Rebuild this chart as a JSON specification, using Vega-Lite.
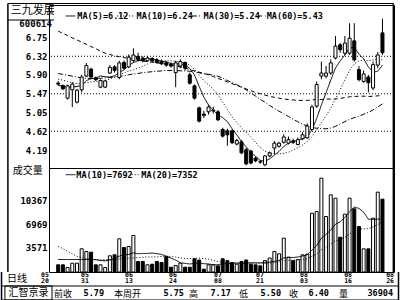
{
"$schema": "https://vega.github.io/schema/vega-lite/v6.json",
"background": "white",
"padding": {"left": 0, "top": 2, "right": 0, "bottom": 0},
"spacing": 0,
"bounds": "flush",
"config": {
  "view": {"stroke": "black", "strokeWidth": 1},
  "axis": {"labelFont": "DejaVu Sans Mono", "labelFontWeight": "bold", "labelColor": "black", "labelFontSize": 9, "ticks": false, "domain": false, "grid": false, "labelPadding": 2, "minExtent": 48, "maxExtent": 48, "labelOverlap": false},
  "text": {"font": "DejaVu Sans Mono", "fontWeight": "bold", "fontSize": 8.5, "color": "black"}
},
"datasets": {
  "k": [
{"i":0,"o":5.71,"h":5.76,"l":5.66,"c":5.69,"v":1050,"m5":5.66,"m10":5.80,"m30":5.93,"m60":6.89,"v10":1820,"v20":3720},
{"i":1,"o":5.66,"h":5.68,"l":5.56,"c":5.58,"v":1050,"m5":5.64,"m10":5.78,"m30":5.91,"m60":6.84,"v10":1820,"v20":3400},
{"i":2,"o":5.37,"h":5.68,"l":5.34,"c":5.65,"v":656,"m5":5.62,"m10":5.75,"m30":5.89,"m60":6.79,"v10":1820,"v20":3000},
{"i":3,"o":5.56,"h":5.73,"l":5.17,"c":5.69,"v":1283,"m5":5.63,"m10":5.72,"m30":5.87,"m60":6.74,"v10":1820,"v20":2650},
{"i":4,"o":5.28,"h":5.58,"l":5.25,"c":5.55,"v":1283,"m5":5.632,"m10":5.70,"m30":5.85,"m60":6.69,"v10":1820,"v20":2300},
{"i":5,"o":5.56,"h":5.90,"l":5.50,"c":5.85,"v":3383,"m5":5.664,"m10":5.70,"m30":5.83,"m60":6.64,"v10":1820,"v20":2100},
{"i":6,"o":5.87,"h":6.17,"l":5.85,"c":6.11,"v":2989,"m5":5.77,"m10":5.72,"m30":5.82,"m60":6.59,"v10":1820,"v20":1950},
{"i":7,"o":6.03,"h":6.06,"l":5.83,"c":5.85,"v":2887,"m5":5.81,"m10":5.74,"m30":5.82,"m60":6.54,"v10":1820,"v20":1850},
{"i":8,"o":5.83,"h":5.86,"l":5.76,"c":5.79,"v":1050,"m5":5.83,"m10":5.75,"m30":5.82,"m60":6.49,"v10":1800,"v20":1800},
{"i":9,"o":5.62,"h":5.80,"l":5.60,"c":5.77,"v":1050,"m5":5.874,"m10":5.753,"m30":5.82,"m60":6.44,"v10":1668,"v20":1800},
{"i":10,"o":5.62,"h":5.79,"l":5.60,"c":5.76,"v":656,"m5":5.856,"m10":5.76,"m30":5.83,"m60":6.39,"v10":1629,"v20":1800},
{"i":11,"o":5.94,"h":6.12,"l":5.92,"c":6.07,"v":2362,"m5":5.848,"m10":5.809,"m30":5.84,"m60":6.36,"v10":1760,"v20":1820},
{"i":12,"o":6.08,"h":6.12,"l":5.95,"c":6.00,"v":2508,"m5":5.878,"m10":5.844,"m30":5.85,"m60":6.33,"v10":1945,"v20":1850},
{"i":13,"o":5.84,"h":6.22,"l":5.80,"c":6.17,"v":4840,"m5":5.954,"m10":5.892,"m30":5.86,"m60":6.31,"v10":2301,"v20":1900},
{"i":14,"o":6.18,"h":6.22,"l":6.02,"c":6.05,"v":3572,"m5":6.01,"m10":5.942,"m30":5.88,"m60":6.29,"v10":2530,"v20":1950},
{"i":15,"o":6.08,"h":6.36,"l":6.05,"c":6.30,"v":3718,"m5":6.118,"m10":5.987,"m30":5.90,"m60":6.27,"v10":2563,"v20":2000},
{"i":16,"o":6.22,"h":6.50,"l":6.18,"c":6.35,"v":5322,"m5":6.174,"m10":6.011,"m30":5.92,"m60":6.25,"v10":2797,"v20":2050},
{"i":17,"o":6.32,"h":6.40,"l":6.20,"c":6.25,"v":1530,"m5":6.224,"m10":6.051,"m30":5.93,"m60":6.23,"v10":2661,"v20":2100},
{"i":18,"o":6.28,"h":6.32,"l":6.18,"c":6.22,"v":1530,"m5":6.234,"m10":6.094,"m30":5.95,"m60":6.21,"v10":2709,"v20":2150},
{"i":19,"o":6.22,"h":6.33,"l":6.20,"c":6.28,"v":1050,"m5":6.28,"m10":6.145,"m30":5.96,"m60":6.20,"v10":2709,"v20":2188},
{"i":20,"o":6.27,"h":6.30,"l":6.18,"c":6.22,"v":1137,"m5":6.264,"m10":6.191,"m30":5.97,"m60":6.19,"v10":2757,"v20":2193},
{"i":21,"o":6.24,"h":6.28,"l":6.15,"c":6.18,"v":1530,"m5":6.23,"m10":6.202,"m30":5.98,"m60":6.17,"v10":2674,"v20":2217},
{"i":22,"o":6.20,"h":6.25,"l":6.12,"c":6.15,"v":1380,"m5":6.21,"m10":6.217,"m30":5.99,"m60":6.16,"v10":2561,"v20":2253},
{"i":23,"o":6.17,"h":6.22,"l":6.08,"c":6.12,"v":2260,"m5":6.19,"m10":6.212,"m30":6.00,"m60":6.14,"v10":2303,"v20":2302},
{"i":24,"o":6.14,"h":6.18,"l":6.06,"c":6.10,"v":700,"m5":6.154,"m10":6.217,"m30":6.00,"m60":6.12,"v10":2016,"v20":2273},
{"i":25,"o":5.95,"h":6.22,"l":5.62,"c":6.17,"v":950,"m5":6.144,"m10":6.204,"m30":6.00,"m60":6.10,"v10":1739,"v20":2151},
{"i":26,"o":6.10,"h":6.25,"l":6.05,"c":6.20,"v":1283,"m5":6.148,"m10":6.189,"m30":5.99,"m60":6.08,"v10":1335,"v20":2066},
{"i":27,"o":6.18,"h":6.20,"l":6.00,"c":6.05,"v":700,"m5":6.128,"m10":6.169,"m30":5.99,"m60":6.05,"v10":1252,"v20":1956},
{"i":28,"o":5.90,"h":5.95,"l":5.68,"c":5.71,"v":700,"m5":6.046,"m10":6.118,"m30":5.98,"m60":6.02,"v10":1169,"v20":1939},
{"i":29,"o":5.65,"h":5.68,"l":5.34,"c":5.37,"v":1925,"m5":5.90,"m10":6.027,"m30":5.975,"m60":5.99,"v10":1257,"v20":1983},
{"i":30,"o":5.15,"h":5.18,"l":4.82,"c":4.85,"v":1750,"m5":5.636,"m10":5.89,"m30":5.947,"m60":5.96,"v10":1318,"v20":2037},
{"i":31,"o":5.01,"h":5.08,"l":4.92,"c":4.98,"v":408,"m5":5.392,"m10":5.77,"m30":5.927,"m60":5.93,"v10":1206,"v20":1940},
{"i":32,"o":5.06,"h":5.22,"l":5.00,"c":5.17,"v":1050,"m5":5.216,"m10":5.672,"m30":5.911,"m60":5.90,"v10":1173,"v20":1867},
{"i":33,"o":5.08,"h":5.18,"l":5.02,"c":5.10,"v":1050,"m5":5.094,"m10":5.57,"m30":5.891,"m60":5.86,"v10":1052,"v20":1677},
{"i":34,"o":5.06,"h":5.10,"l":4.85,"c":4.88,"v":900,"m5":4.996,"m10":5.448,"m30":5.869,"m60":5.82,"v10":1072,"v20":1544},
{"i":35,"o":4.66,"h":4.70,"l":4.48,"c":4.51,"v":1925,"m5":4.928,"m10":5.282,"m30":5.824,"m60":5.78,"v10":1169,"v20":1454},
{"i":36,"o":4.63,"h":4.68,"l":4.29,"c":4.54,"v":1660,"m5":4.84,"m10":5.116,"m30":5.772,"m60":5.74,"v10":1207,"v20":1271},
{"i":37,"o":4.63,"h":4.66,"l":4.33,"c":4.36,"v":1380,"m5":4.678,"m10":4.947,"m30":5.722,"m60":5.70,"v10":1275,"v20":1263},
{"i":38,"o":4.33,"h":4.45,"l":4.30,"c":4.41,"v":1137,"m5":4.54,"m10":4.817,"m30":5.676,"m60":5.66,"v10":1319,"v20":1244},
{"i":39,"o":4.38,"h":4.42,"l":4.10,"c":4.13,"v":1530,"m5":4.39,"m10":4.693,"m30":5.622,"m60":5.62,"v10":1279,"v20":1268},
{"i":40,"o":4.20,"h":4.24,"l":3.85,"c":3.88,"v":1750,"m5":4.264,"m10":4.596,"m30":5.559,"m60":5.58,"v10":1279,"v20":1298},
{"i":41,"o":4.17,"h":4.20,"l":3.87,"c":3.90,"v":1137,"m5":4.136,"m10":4.488,"m30":5.487,"m60":5.54,"v10":1352,"v20":1279},
{"i":42,"o":4.01,"h":4.04,"l":3.92,"c":3.95,"v":1050,"m5":4.054,"m10":4.366,"m30":5.418,"m60":5.50,"v10":1352,"v20":1262},
{"i":43,"o":3.93,"h":3.97,"l":3.88,"c":3.92,"v":900,"m5":3.956,"m10":4.248,"m30":5.343,"m60":5.47,"v10":1337,"v20":1194},
{"i":44,"o":3.86,"h":4.08,"l":3.83,"c":4.06,"v":1660,"m5":3.942,"m10":4.166,"m30":5.277,"m60":5.44,"v10":1413,"v20":1242},
{"i":45,"o":4.06,"h":4.16,"l":4.03,"c":4.13,"v":2040,"m5":3.992,"m10":4.128,"m30":5.205,"m60":5.41,"v10":1424,"v20":1297},
{"i":46,"o":4.24,"h":4.40,"l":4.10,"c":4.35,"v":2990,"m5":4.082,"m10":4.109,"m30":5.138,"m60":5.39,"v10":1557,"v20":1382},
{"i":47,"o":4.28,"h":4.38,"l":4.25,"c":4.35,"v":2650,"m5":4.162,"m10":4.108,"m30":5.075,"m60":5.37,"v10":1684,"v20":1480},
{"i":48,"o":4.37,"h":4.55,"l":4.34,"c":4.49,"v":4930,"m5":4.276,"m10":4.116,"m30":5.017,"m60":5.35,"v10":2064,"v20":1691},
{"i":49,"o":4.35,"h":4.50,"l":4.32,"c":4.43,"v":2160,"m5":4.35,"m10":4.146,"m30":4.955,"m60":5.34,"v10":2127,"v20":1703},
{"i":50,"o":4.40,"h":4.45,"l":4.33,"c":4.37,"v":1660,"m5":4.398,"m10":4.195,"m30":4.894,"m60":5.33,"v10":2118,"v20":1698},
{"i":51,"o":4.32,"h":4.48,"l":4.30,"c":4.43,"v":1800,"m5":4.414,"m10":4.248,"m30":4.835,"m60":5.32,"v10":2184,"v20":1768},
{"i":52,"o":4.45,"h":4.60,"l":4.42,"c":4.54,"v":2500,"m5":4.452,"m10":4.307,"m30":4.782,"m60":5.32,"v10":2329,"v20":1840},
{"i":53,"o":4.47,"h":4.80,"l":4.45,"c":4.74,"v":2600,"m5":4.502,"m10":4.389,"m30":4.736,"m60":5.32,"v10":2499,"v20":1918},
{"i":54,"o":4.66,"h":5.22,"l":4.64,"c":5.17,"v":8570,"m5":4.65,"m10":4.50,"m30":4.705,"m60":5.33,"v10":3190,"v20":2301},
{"i":55,"o":5.19,"h":5.75,"l":5.15,"c":5.68,"v":8820,"m5":4.912,"m10":4.655,"m30":4.688,"m60":5.34,"v10":3868,"v20":2646},
{"i":56,"o":5.87,"h":6.20,"l":5.80,"c":5.94,"v":13680,"m5":5.214,"m10":4.814,"m30":4.68,"m60":5.34,"v10":4937,"v20":3247},
{"i":57,"o":5.87,"h":6.10,"l":5.82,"c":5.94,"v":8090,"m5":5.494,"m10":4.973,"m30":4.676,"m60":5.35,"v10":5481,"v20":3583},
{"i":58,"o":5.94,"h":6.25,"l":5.90,"c":6.17,"v":11250,"m5":5.78,"m10":5.141,"m30":4.691,"m60":5.35,"v10":6113,"v20":4088},
{"i":59,"o":6.28,"h":6.78,"l":6.25,"c":6.55,"v":10760,"m5":6.056,"m10":5.353,"m30":4.731,"m60":5.353,"v10":6973,"v20":4550},
{"i":60,"o":6.58,"h":6.62,"l":6.40,"c":6.47,"v":5075,"m5":6.214,"m10":5.563,"m30":4.785,"m60":5.366,"v10":7315,"v20":4716},
{"i":61,"o":6.39,"h":6.78,"l":6.35,"c":6.62,"v":8430,"m5":6.35,"m10":5.782,"m30":4.839,"m60":5.383,"v10":7978,"v20":5081},
{"i":62,"o":6.39,"h":7.07,"l":6.35,"c":6.73,"v":10760,"m5":6.508,"m10":6.001,"m30":4.891,"m60":5.401,"v10":8804,"v20":5566},
{"i":63,"o":6.67,"h":7.07,"l":6.20,"c":6.24,"v":9210,"m5":6.522,"m10":6.151,"m30":4.929,"m60":5.41,"v10":9465,"v20":5982},
{"i":64,"o":6.02,"h":6.10,"l":5.75,"c":5.79,"v":6630,"m5":6.37,"m10":6.213,"m30":4.96,"m60":5.414,"v10":9271,"v20":6230},
{"i":65,"o":5.75,"h":6.00,"l":5.72,"c":5.92,"v":3380,"m5":6.26,"m10":6.237,"m30":5.007,"m60":5.416,"v10":8727,"v20":6297},
{"i":66,"o":5.85,"h":5.90,"l":5.50,"c":5.72,"v":3380,"m5":6.08,"m10":6.215,"m30":5.046,"m60":5.409,"v10":7697,"v20":6317},
{"i":67,"o":5.60,"h":6.20,"l":5.55,"c":6.13,"v":7850,"m5":5.96,"m10":6.234,"m30":5.105,"m60":5.414,"v10":7673,"v20":6577},
{"i":68,"o":6.12,"h":6.42,"l":6.05,"c":6.35,"v":11640,"m5":5.982,"m10":6.252,"m30":5.17,"m60":5.423,"v10":7712,"v20":6912},
{"i":69,"o":6.85,"h":7.17,"l":6.35,"c":6.40,"v":10620,"m5":6.12,"m10":6.24,"m30":5.24,"m60":5.43,"v10":7692,"v20":7352}
  ],
  "lg": [
    {"m":"m5","a":1.59,"b":3.66,"t":"MA(5)=6.12","tx":4.07},
    {"m":"m10","a":12.54,"b":16.26,"t":"MA(10)=6.24","tx":16.67},
    {"m":"m30","a":28.45,"b":30.52,"t":"MA(30)=5.24","tx":30.93},
    {"m":"m60","a":42.5,"b":44.15,"t":"MA(60)=5.43","tx":44.36}
  ],
  "vl": [
    {"m":"v10","a":1.59,"b":3.66,"t":"MA(10)=7692","tx":3.86},
    {"m":"v20","a":15.64,"b":17.5,"t":"MA(20)=7352","tx":17.7}
  ],
  "inf": [
    {"r":"d","k":"dt","x":-1.71,"t":"05\n20"},
    {"r":"d","k":"dt","x":6.55,"t":"05\n31"},
    {"r":"d","k":"dt","x":15.64,"t":"06\n13"},
    {"r":"d","k":"dt","x":24.73,"t":"06\n24"},
    {"r":"d","k":"dt","x":34.03,"t":"07\n08"},
    {"r":"d","k":"dt","x":42.71,"t":"07\n21"},
    {"r":"d","k":"dt","x":51.8,"t":"08\n03"},
    {"r":"d","k":"dt","x":60.9,"t":"08\n16"},
    {"r":"d","k":"dt","x":69.58,"t":"08\n26"},
    {"r":"d","k":"cc","x":-7.5,"t":"日线"},
    {"r":"n","k":"cc","x":-5.12,"t":"汇智京录"},
    {"r":"n","k":"cl","x":0.14,"t":"前收"},
    {"r":"n","k":"cl","x":12.54,"t":"本周开"},
    {"r":"n","k":"cl","x":28.04,"t":"高"},
    {"r":"n","k":"cl","x":38.37,"t":"低"},
    {"r":"n","k":"cl","x":48.7,"t":"收"},
    {"r":"n","k":"cl","x":59.03,"t":"量"},
    {"r":"n","k":"nr","x":10.48,"t":"5.79"},
    {"r":"n","k":"nr","x":27.0,"t":"5.75"},
    {"r":"n","k":"nr","x":36.69,"t":"7.17"},
    {"r":"n","k":"nr","x":47.05,"t":"5.50"},
    {"r":"n","k":"nr","x":56.96,"t":"6.40"},
    {"r":"n","k":"nr","x":70.19,"t":"36904"}
  ],
  "fr": [
    {"r":"n","a":-10.70,"b":71.32},
    {"r":"n","a":-10.0,"b":-0.27}
  ],
  "ev": [{"e": -10.70}, {"e": 71.32}]
},
"vconcat": [
  {
    "width": 345, "height": 163,
    "layer": [
      {
        "data": {"values": [{"g":6.32},{"g":5.47},{"g":4.62}]},
        "mark": {"type": "rule", "strokeDash": [1,2], "color": "black", "strokeWidth": 1},
        "encoding": {
          "y": {"field": "g", "type": "quantitative", "scale": {"domain": [3.787, 7.483], "nice": false, "zero": false},
                "axis": {"values": [6.75,6.32,5.90,5.47,5.05,4.62,4.19], "tickCount": 20, "format": ".2f", "title": null, "labelOverlap": false, "labelBound": false}}
        }
      },
      {
        "data": {"name": "k"},
        "transform": [{"fold": ["m5","m10","m30","m60"], "as": ["m","p"]}],
        "mark": {"type": "line", "color": "black", "strokeWidth": 1},
        "encoding": {
          "x": {"field": "i", "type": "quantitative", "scale": {"domain": [-0.89, 70.39], "nice": false, "zero": false}, "axis": null},
          "y": {"field": "p", "type": "quantitative", "axis": {"values": [6.75,6.32,5.90,5.47,5.05,4.62,4.19], "tickCount": 20, "format": ".2f", "title": null, "labelOverlap": false, "labelBound": false}},
          "strokeDash": {"field": "m", "type": "nominal", "scale": {"domain": ["m5","m10","m30","m60"], "range": [[1,0],[1,2],[5,2,1,2],[4,3]]}, "legend": null}
        }
      },
      {
        "data": {"name": "k"},
        "mark": {"type": "rule", "color": "black", "strokeWidth": 1},
        "encoding": {
          "x": {"field": "i", "type": "quantitative"},
          "y": {"field": "l", "type": "quantitative", "axis": {"values": [6.75,6.32,5.90,5.47,5.05,4.62,4.19], "tickCount": 20, "format": ".2f", "title": null, "labelOverlap": false, "labelBound": false}},
          "y2": {"field": "h"}
        }
      },
      {
        "data": {"name": "k"},
        "mark": {"type": "bar", "size": 3, "stroke": "black", "strokeWidth": 1},
        "encoding": {
          "x": {"field": "i", "type": "quantitative"},
          "y": {"field": "o", "type": "quantitative", "axis": {"values": [6.75,6.32,5.90,5.47,5.05,4.62,4.19], "tickCount": 20, "format": ".2f", "title": null, "labelOverlap": false, "labelBound": false}},
          "y2": {"field": "c"},
          "fill": {"condition": {"test": "datum.c < datum.o", "value": "black"}, "value": "white"}
        }
      },
      {
        "data": {"name": "lg"},
        "mark": {"type": "rule", "color": "black", "strokeWidth": 1},
        "encoding": {
          "x": {"field": "a", "type": "quantitative"},
          "x2": {"field": "b"},
          "y": {"datum": 7.234, "type": "quantitative"},
          "strokeDash": {"field": "m", "type": "nominal", "legend": null}
        }
      },
      {
        "data": {"name": "lg"},
        "mark": {"type": "text", "align": "left", "fontSize": 8.5},
        "encoding": {
          "x": {"field": "tx", "type": "quantitative"},
          "y": {"datum": 7.234, "type": "quantitative"},
          "text": {"field": "t"}
        }
      },
      {
        "data": {"values": [{"x": -5.43, "p": 7.336, "t": "三九发展"}]},
        "mark": {"type": "text", "font": "Noto Sans CJK SC", "fontWeight": "normal", "fontSize": 11},
        "encoding": {
          "x": {"field": "x", "type": "quantitative"},
          "y": {"field": "p", "type": "quantitative"},
          "text": {"field": "t"}
        }
      },
      {
        "data": {"values": [{"x": -4.8, "p": 7.041, "t": "600614"}]},
        "mark": {"type": "text", "fontSize": 9},
        "encoding": {
          "x": {"field": "x", "type": "quantitative"},
          "y": {"field": "p", "type": "quantitative"},
          "text": {"field": "t"}
        }
      },
      {
        "data": {"name": "ev"},
        "mark": {"type": "rule", "color": "black", "strokeWidth": 1.5},
        "encoding": {
          "x": {"field": "e", "type": "quantitative"},
          "y": {"datum": 7.517, "type": "quantitative"},
          "y2": {"datum": 3.787}
        }
      },
      {
        "data": {"values": [{"a": -10.70, "b": 71.32, "p": 7.517}, {"a": -10.70, "b": -0.89, "p": 7.143}]},
        "mark": {"type": "rule", "color": "black", "strokeWidth": 1},
        "encoding": {
          "x": {"field": "a", "type": "quantitative"},
          "x2": {"field": "b"},
          "y": {"field": "p", "type": "quantitative"}
        }
      }
    ]
  },
  {
    "width": 345, "height": 104,
    "layer": [
      {
        "data": {"name": "k"},
        "mark": {"type": "bar", "size": 3, "stroke": "black", "strokeWidth": 1, "orient": "vertical"},
        "encoding": {
          "x": {"field": "i", "type": "quantitative", "scale": {"domain": [-0.89, 70.39], "nice": false, "zero": false}, "axis": null},
          "y": {"field": "v", "type": "quantitative", "scale": {"domain": [0, 15163], "nice": false},
                "axis": {"values": [10367, 6969, 3571], "tickCount": 20, "format": "d", "title": null, "labelOverlap": false}},
          "fill": {"condition": {"test": "datum.c < datum.o", "value": "black"}, "value": "white"}
        }
      },
      {
        "data": {"name": "k"},
        "transform": [{"fold": ["v10","v20"], "as": ["m","q"]}],
        "mark": {"type": "line", "color": "black", "strokeWidth": 1},
        "encoding": {
          "x": {"field": "i", "type": "quantitative"},
          "y": {"field": "q", "type": "quantitative", "axis": {"values": [10367, 6969, 3571], "tickCount": 20, "format": "d", "title": null, "labelOverlap": false}},
          "strokeDash": {"field": "m", "type": "nominal", "scale": {"domain": ["v10","v20"], "range": [[1,0],[1,2]]}, "legend": null}
        }
      },
      {
        "data": {"name": "vl"},
        "mark": {"type": "rule", "color": "black", "strokeWidth": 1},
        "encoding": {
          "x": {"field": "a", "type": "quantitative"},
          "x2": {"field": "b"},
          "y": {"datum": 14186, "type": "quantitative"},
          "strokeDash": {"field": "m", "type": "nominal", "legend": null}
        }
      },
      {
        "data": {"name": "vl"},
        "mark": {"type": "text", "align": "left", "fontSize": 8.5},
        "encoding": {
          "x": {"field": "tx", "type": "quantitative"},
          "y": {"datum": 14186, "type": "quantitative"},
          "text": {"field": "t"}
        }
      },
      {
        "data": {"values": [{"x": -6.47, "v": 14726, "t": "成交量"}]},
        "mark": {"type": "text", "font": "Noto Sans CJK SC", "fontWeight": "normal", "fontSize": 10},
        "encoding": {
          "x": {"field": "x", "type": "quantitative"},
          "y": {"field": "v", "type": "quantitative"},
          "text": {"field": "t"}
        }
      },
      {
        "data": {"name": "ev"},
        "mark": {"type": "rule", "color": "black", "strokeWidth": 1.5},
        "encoding": {
          "x": {"field": "e", "type": "quantitative"}
        }
      }
    ]
  },
  {
    "width": 345, "height": 28,
    "view": {"stroke": null},
    "layer": [
      {
        "data": {"name": "fr"},
        "mark": {"type": "rect", "fill": null, "stroke": "black", "strokeWidth": 1},
        "encoding": {
          "x": {"field": "a", "type": "quantitative", "scale": {"domain": [-0.89, 70.39], "nice": false, "zero": false}, "axis": null},
          "x2": {"field": "b"},
          "y": {"field": "r", "type": "nominal", "scale": {"type": "band", "domain": ["d","n"], "paddingInner": 0, "paddingOuter": 0}, "axis": null}
        }
      },
      {
        "data": {"name": "ev"},
        "mark": {"type": "rule", "color": "black", "strokeWidth": 1.5},
        "encoding": {
          "x": {"field": "e", "type": "quantitative"}
        }
      },
      {
        "data": {"name": "inf"},
        "transform": [{"filter": "datum.k == 'dt'"}],
        "mark": {"type": "text", "fontSize": 6.5, "lineHeight": 6.5, "lineBreak": "\n", "dy": -4.5},
        "encoding": {
          "x": {"field": "x", "type": "quantitative"},
          "y": {"field": "r", "type": "nominal", "bandPosition": 0.5},
          "text": {"field": "t"}
        }
      },
      {
        "data": {"name": "inf"},
        "transform": [{"filter": "datum.k == 'cc'"}],
        "mark": {"type": "text", "font": "Noto Sans CJK SC", "fontWeight": "normal", "fontSize": 10},
        "encoding": {
          "x": {"field": "x", "type": "quantitative"},
          "y": {"field": "r", "type": "nominal", "bandPosition": 0.5},
          "text": {"field": "t"}
        }
      },
      {
        "data": {"name": "inf"},
        "transform": [{"filter": "datum.k == 'cl'"}],
        "mark": {"type": "text", "align": "left", "font": "Noto Sans CJK SC", "fontWeight": "normal", "fontSize": 9, "dy": 1},
        "encoding": {
          "x": {"field": "x", "type": "quantitative"},
          "y": {"field": "r", "type": "nominal", "bandPosition": 0.5},
          "text": {"field": "t"}
        }
      },
      {
        "data": {"name": "inf"},
        "transform": [{"filter": "datum.k == 'nr'"}],
        "mark": {"type": "text", "align": "right", "fontSize": 8.5},
        "encoding": {
          "x": {"field": "x", "type": "quantitative"},
          "y": {"field": "r", "type": "nominal", "bandPosition": 0.5},
          "text": {"field": "t"}
        }
      }
    ]
  }
]
}
